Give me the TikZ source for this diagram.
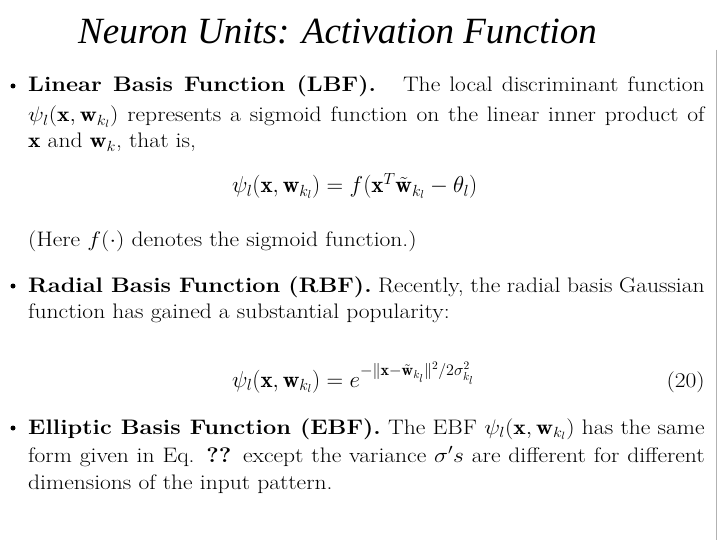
\documentclass[tikz,border=0pt]{standalone}
\usepackage{fix-cm}
\usepackage{amsmath}
\usepackage{graphicx}
\usepackage{fontspec}
\newfontfamily\titlefont{Liberation Serif}
\newcommand{\hs}[1]{\scalebox{1.12}[1]{#1}}
\begin{document}
\begin{tikzpicture}[x=1pt,y=-1pt,
  txt/.style={anchor=base west,inner sep=0pt,font=\fontsize{21}{25}\selectfont},
  eq/.style={anchor=base west,inner sep=0pt,font=\fontsize{23}{27}\selectfont},
  bul/.style={circle,fill=black,inner sep=0pt,minimum size=5pt}]
\useasboundingbox[fill=white] (0,0) rectangle (720,540);
\draw[gray!60,line width=0.8pt] (716,50) -- (716,540);
\node[anchor=base west,inner sep=0pt,font=\titlefont\itshape\fontsize{37}{40}\selectfont] (title) at (78,44) {Neuron Units: Activation Function};
\def\W{604pt}
\node[bul] (b1) at (13,86) {};
\node[txt] (l1) at (28,92) {\hs{\makebox[\W][s]{\textbf{Linear Basis Function (LBF).} \ \ The local discriminant function}}};
\node[txt] (l2) at (28,122) {\hs{\makebox[\W][s]{$\psi_l(\mathbf{x},\mathbf{w}_{k_l})$ represents a sigmoid function on the linear inner product of}}};
\node[txt] (l3) at (28,148) {\hs{$\mathbf{x}$ and $\mathbf{w}_{k}$, that is,}};
\node[eq] (e1) at (232,193) {$\psi_l(\mathbf{x},\mathbf{w}_{k_l}) = f(\mathbf{x}^T\tilde{\mathbf{w}}_{k_l}-\theta_l)$};
\node[txt] (l4) at (28,246) {\hs{(Here $f(\cdot)$ denotes the sigmoid function.)}};
\node[bul] (b2) at (13,286) {};
\node[txt] (l5) at (28,292) {\hs{\makebox[\W][s]{\textbf{Radial Basis Function (RBF).} Recently, the radial basis Gaussian}}};
\node[txt] (l6) at (28,318) {\hs{function has gained a substantial popularity:}};
\node[eq] (e2) at (232,387) {$\psi_l(\mathbf{x},\mathbf{w}_{k_l}) = e^{-\|\mathbf{x}-\tilde{\mathbf{w}}_{k_l}\|^2/2\sigma_{k_l}^2}$};
\node[txt,anchor=base east] (n20) at (705,387) {\hs{(20)}};
\node[bul] (b3) at (13,428) {};
\node[txt] (l7) at (28,434) {\hs{\makebox[\W][s]{\textbf{Elliptic Basis Function (EBF).} The EBF $\psi_l(\mathbf{x},\mathbf{w}_{k_l})$ has the same}}};
\node[txt] (l8) at (28,462) {\hs{\makebox[\W][s]{form given in Eq. \textbf{??} except the variance $\sigma's$ are different for different}}};
\node[txt] (l9) at (28,489) {\hs{dimensions of the input pattern.}};
\end{tikzpicture}
\end{document}
